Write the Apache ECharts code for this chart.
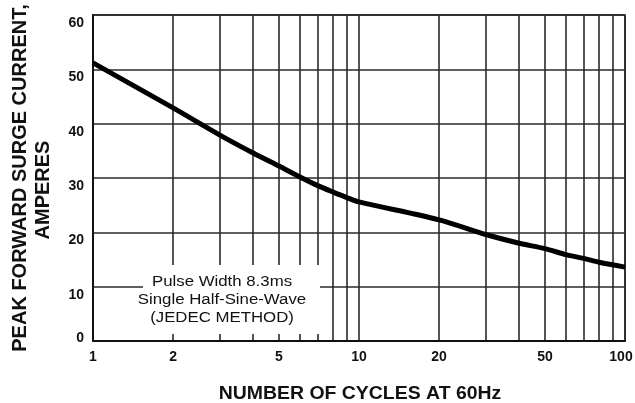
<!DOCTYPE html>
<html>
<head>
<meta charset="utf-8">
<script src="https://cdn.jsdelivr.net/npm/echarts@6/dist/echarts.min.js"></script>
<style>html,body{margin:0;padding:0;background:#fff;}#c{width:635px;height:403px;}</style>
</head>
<body>
<div id="c"></div>
<script>
// Number of cycles at 60Hz (x, log scale)
const cycles = [1, 2, 3, 4, 5, 6, 7, 8, 9, 10, 20, 30, 40, 50, 60, 70, 80, 100];
// Peak forward surge current, amperes
const current = [51.2, 42.9, 37.9, 34.6, 32.2, 30.2, 28.6, 27.4, 26.4, 25.6, 22.3, 19.6, 18.0, 17.0, 15.9, 15.2, 14.5, 13.6];
// Vertical grid positions and labelled ticks
const gridX = [1, 2, 3, 4, 5, 6, 7, 8, 9, 10, 20, 30, 40, 50, 60, 70, 80, 90, 100];
const xLabels = [1, 2, 5, 10, 20, 50, 100];
const yMin = 0, yMax = 60, yStep = 10;
const xTitle = 'NUMBER OF CYCLES AT 60Hz';
const yTitle1 = 'PEAK FORWARD SURGE CURRENT,';
const yTitle2 = 'AMPERES';
const noteLines = ['Pulse Width 8.3ms', 'Single Half-Sine-Wave', '(JEDEC METHOD)'];

const font = 'Arial, "Liberation Sans", Helvetica, sans-serif';
const lbl = {fontFamily: font, fontSize: 14, fontWeight: 'bold', color: '#111'};
const chart = echarts.init(document.getElementById('c'), null, {renderer: 'canvas'});
chart.setOption({
  backgroundColor: '#fff',
  animation: false,
  grid: {left: 93, right: 10, top: 15, bottom: 62, outerBoundsMode: 'none', containLabel: false,
    show: true, borderColor: '#111', borderWidth: 1.5, backgroundColor: 'transparent'},
  xAxis: {
    type: 'log', logBase: 10, min: 1, max: 100,
    axisLine: {show: true, lineStyle: {color: '#111', width: 2}},
    axisTick: {show: false, customValues: gridX},
    axisLabel: Object.assign({customValues: xLabels, margin: 9,
      formatter: v => Math.round(v) === 100 ? '{e|100}' : String(Math.round(v)),
      rich: {e: Object.assign({padding: [0, 8, 0, 0]}, lbl)}}, lbl),
    splitLine: {show: true, lineStyle: {color: '#2a2a2a', width: 1.6}}
  },
  yAxis: {
    type: 'value', min: yMin, max: yMax, interval: yStep,
    axisLine: {show: true, lineStyle: {color: '#111', width: 2}},
    axisTick: {show: false},
    axisLabel: Object.assign({margin: 9,
      formatter: v => v === 0 ? '{z|0}' : '{n|' + v + '}',
      rich: {
        n: Object.assign({padding: [16, 0, 0, 0]}, lbl),
        z: Object.assign({padding: [0, 0, 6, 0]}, lbl)
      }}, lbl),
    splitLine: {show: true, lineStyle: {color: '#2a2a2a', width: 1.6}}
  },
  series: [{
    type: 'line',
    data: cycles.map((c, i) => [c, current[i]]),
    smooth: 0.3, showSymbol: false, z: 10,
    lineStyle: {color: '#000', width: 5}
  }],
  graphic: [
    {type: 'rect', x: 143, y: 265, z: 50, shape: {x: 0, y: 0, width: 177, height: 69}, style: {fill: '#fff'}},
    {type: 'text', x: 222, y: 300, z: 60, scaleX: 1.2, style: {
      text: noteLines.join('\n'), x: 0, y: 0, fill: '#111', font: '14px ' + font,
      align: 'center', verticalAlign: 'middle', lineHeight: 18
    }},
    {type: 'text', x: 360, y: 394, z: 60, scaleX: 1.08, style: {
      text: xTitle, x: 0, y: 0, fill: '#111', font: 'bold 18px ' + font,
      align: 'center', verticalAlign: 'middle'
    }},
    {type: 'text', x: 20.5, y: 178, z: 60, rotation: Math.PI / 2, style: {
      text: yTitle1, x: 0, y: 0, fill: '#111', font: 'bold 20px ' + font,
      align: 'center', verticalAlign: 'middle'
    }},
    {type: 'text', x: 43, y: 190, z: 60, rotation: Math.PI / 2, style: {
      text: yTitle2, x: 0, y: 0, fill: '#111', font: 'bold 20px ' + font,
      align: 'center', verticalAlign: 'middle'
    }}
  ]
});
</script>
</body>
</html>
